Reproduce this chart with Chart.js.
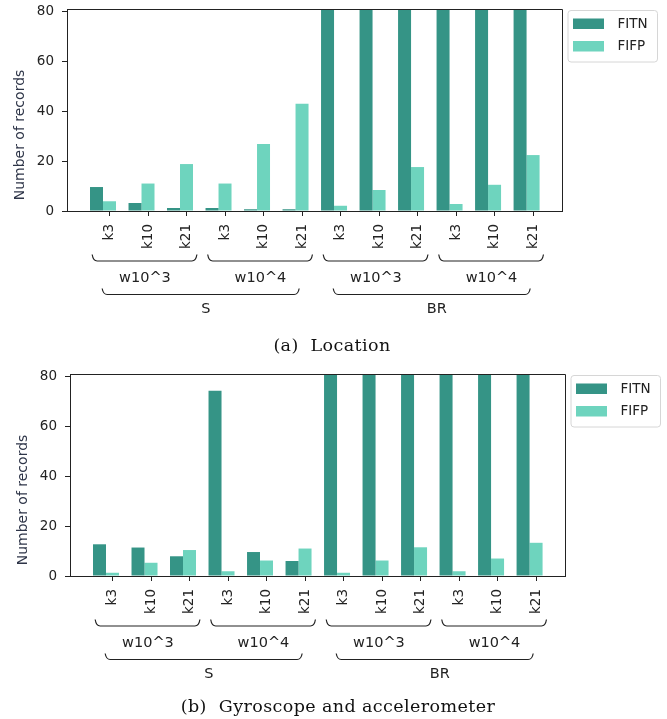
<!DOCTYPE html>
<html>
<head>
<meta charset="utf-8">
<script src="https://cdn.jsdelivr.net/npm/chart.js@4.4.1/dist/chart.umd.min.js"></script>
<style>
  html, body { margin: 0; padding: 0; background: #fff; }
  body { width: 667px; height: 719px; position: relative; overflow: hidden; }
  canvas { position: absolute; }
  .cap { position: absolute; width: 400px; text-align: center; font-family: "DejaVu Serif", serif; font-size: 17.5px; letter-spacing: 0.4px; color: #111; line-height: 20px; white-space: nowrap; }
</style>
</head>
<body>
<canvas id="chartA" width="667" height="360" style="left:0;top:0"></canvas>
<div class="cap" style="left:132px;top:335px">(a)&nbsp; Location</div>
<canvas id="chartB" width="667" height="354" style="left:3px;top:365px"></canvas>
<div class="cap" style="left:138px;top:696px">(b)&nbsp; Gyroscope and accelerometer</div>
<script>
// tick labels and group labels
var kLabels = ['k3', 'k10', 'k21', 'k3', 'k10', 'k21', 'k3', 'k10', 'k21', 'k3', 'k10', 'k21'];
var wLabels = ['w10^3', 'w10^4', 'w10^3', 'w10^4'];
var sLabels = ['S', 'BR'];
var seriesNames = ['FITN', 'FIFP'];

// (a) Location  (BR FITN bars run off the top of the axis)
var locFITN = [9.6, 3.2, 1.2, 1.2, 0.7, 0.7, 81, 81, 81, 81, 81, 81];
var locFIFP = [3.9, 11.0, 18.8, 11.0, 26.8, 43.0, 2.1, 8.4, 17.6, 2.8, 10.5, 22.4];

// (b) Gyroscope and accelerometer
var gyrFITN = [12.7, 11.4, 7.9, 74.2, 9.6, 6.0, 81, 81, 81, 81, 81, 81];
var gyrFIFP = [1.3, 5.3, 10.4, 1.9, 6.2, 11.0, 1.3, 6.2, 11.5, 1.9, 7.0, 13.3];

var colFITN = '#359486';
var colFIFP = '#6ed4be';
var ink = '#222';
var catPct = 0.675;
var tickShift = catPct / 4;   // ticks sit under the FIFP bar

function brace(ctx, x1, x2, yTop, yLine, hook) {
    ctx.beginPath();
    ctx.moveTo(x1, yTop);
    ctx.quadraticCurveTo(x1 + 1, yLine, x1 + hook, yLine);
    ctx.lineTo(x2 - hook, yLine);
    ctx.quadraticCurveTo(x2 - 1, yLine, x2, yTop);
    ctx.stroke();
}

function roundBox(ctx, x, y, w, h, r) {
    ctx.beginPath();
    ctx.moveTo(x + r, y);
    ctx.arcTo(x + w, y, x + w, y + h, r);
    ctx.arcTo(x + w, y + h, x, y + h, r);
    ctx.arcTo(x, y + h, x, y, r);
    ctx.arcTo(x, y, x + w, y, r);
    ctx.closePath();
}

var extras = {
    id: 'extras',
    afterDraw: function (chart) {
        var ctx = chart.ctx;
        var a = chart.chartArea;
        var xs = chart.scales.x;
        var px = function (v) { return xs.getPixelForValue(v); };
        ctx.save();

        // top and right of the frame
        ctx.strokeStyle = ink;
        ctx.lineWidth = 1;
        ctx.beginPath();
        ctx.moveTo(a.left, a.top + 0.5);
        ctx.lineTo(a.right + 0.5, a.top + 0.5);
        ctx.lineTo(a.right + 0.5, a.bottom);
        ctx.stroke();

        // first level braces (window)
        ctx.lineWidth = 1.2;
        ctx.fillStyle = ink;
        ctx.textAlign = 'center';
        ctx.textBaseline = 'middle';
        ctx.font = '14.5px "DejaVu Sans"';
        for (var g = 0; g < wLabels.length; g++) {
            var f = 3 * g + tickShift;
            brace(ctx, px(f - 0.45), px(f + 2 + 0.27), a.bottom + 43.5, a.bottom + 50, 5);
            ctx.fillText(wLabels[g], px(f + 1 - 0.08), a.bottom + 67.5);
        }
        // second level braces (dataset)
        for (var s = 0; s < sLabels.length; s++) {
            var f2 = 6 * s + tickShift;
            brace(ctx, px(f2 - 0.19), px(f2 + 5 - 0.075), a.bottom + 77.5, a.bottom + 83.5, 5);
            ctx.fillText(sLabels[s], px(f2 + 2.5), a.bottom + 98);
        }

        // y axis title
        ctx.save();
        ctx.translate(a.left - 47, (a.top + a.bottom) / 2 + 25);
        ctx.rotate(-Math.PI / 2);
        ctx.fillStyle = '#2e3548';
        ctx.font = '14px "DejaVu Sans"';
        ctx.fillText('Number of records', 0, 0);
        ctx.restore();

        // legend
        roundBox(ctx, a.right + 6, a.top + 1.5, 89.5, 51.5, 3);
        ctx.fillStyle = '#fff';
        ctx.fill();
        ctx.strokeStyle = '#d6d6d6';
        ctx.lineWidth = 1;
        ctx.stroke();
        ctx.font = '13.5px "DejaVu Sans"';
        ctx.textAlign = 'left';
        chart.data.datasets.forEach(function (ds, i) {
            var by = a.top + 9.5 + i * 22.5;
            ctx.fillStyle = ds.backgroundColor;
            ctx.fillRect(a.right + 11, by, 31, 10.5);
            ctx.fillStyle = ink;
            ctx.fillText(ds.label, a.right + 55.5, by + 5.5);
        });
        ctx.restore();
    }
};

function makeChart(id, height, fitn, fifp) {
    var toPts = function (arr) { return arr.map(function (v, i) { return { x: i, y: v }; }); };
    var tickFont = { family: 'DejaVu Sans', size: 13.5 };
    return new Chart(document.getElementById(id), {
        type: 'bar',
        data: {
            datasets: [
                { label: seriesNames[0], data: toPts(fitn), backgroundColor: colFITN, borderWidth: 0 },
                { label: seriesNames[1], data: toPts(fifp), backgroundColor: colFIFP, borderWidth: 0 }
            ]
        },
        options: {
            responsive: false,
            animation: false,
            devicePixelRatio: 1,
            categoryPercentage: catPct,
            barPercentage: 1,
            layout: { padding: { left: 0, top: 9, right: 105, bottom: height - 211 - 50 } },
            plugins: { legend: { display: false }, tooltip: { enabled: false } },
            scales: {
                x: {
                    type: 'linear',
                    offset: false,
                    min: -0.935,
                    max: 11.92,
                    afterBuildTicks: function (s) {
                        s.ticks = kLabels.map(function (_, i) { return { value: i + tickShift }; });
                    },
                    afterFit: function (s) {
                        s.height = 50;
                        s.paddingLeft = 0;
                        s.paddingRight = 0;
                    },
                    ticks: {
                        autoSkip: false,
                        minRotation: 90,
                        maxRotation: 90,
                        padding: 8,
                        color: ink,
                        font: tickFont,
                        callback: function (v, i) { return kLabels[i]; }
                    },
                    grid: { offset: false, drawOnChartArea: false, drawTicks: true, tickLength: 5, tickColor: ink },
                    border: { display: true, color: ink, width: 1 }
                },
                y: {
                    min: 0,
                    max: 80.9,
                    afterFit: function (s) {
                        s.width = 67;
                        s.paddingTop = 0;
                        s.paddingBottom = 0;
                    },
                    ticks: { stepSize: 20, includeBounds: false, padding: 8, color: ink, font: tickFont },
                    grid: { drawOnChartArea: false, drawTicks: true, tickLength: 5, tickColor: ink },
                    border: { display: true, color: ink, width: 1 }
                }
            }
        },
        plugins: [extras]
    });
}

makeChart('chartA', 360, locFITN, locFIFP);
makeChart('chartB', 354, gyrFITN, gyrFIFP);
</script>
</body>
</html>
